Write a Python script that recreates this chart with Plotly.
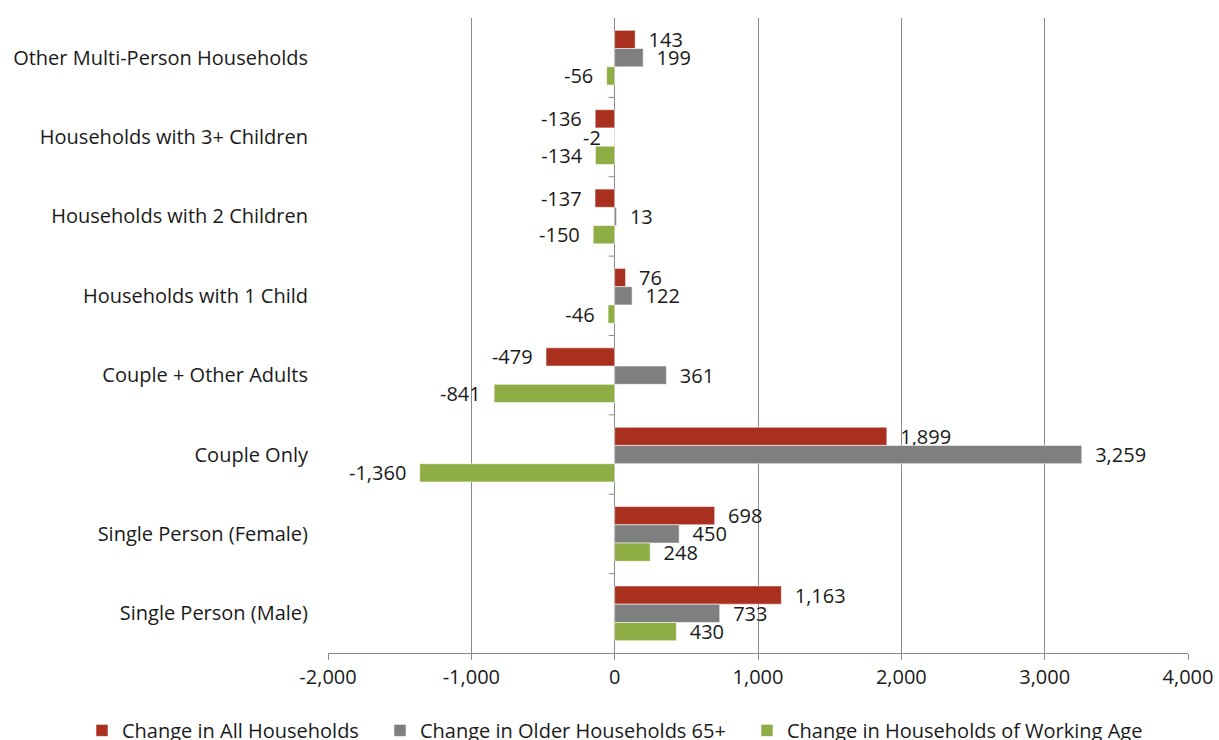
import plotly.graph_objects as go

# Household types, listed top to bottom
categories = [
    "Other Multi-Person Households",
    "Households with 3+ Children",
    "Households with 2 Children",
    "Households with 1 Child",
    "Couple + Other Adults",
    "Couple Only",
    "Single Person (Female)",
    "Single Person (Male)",
]

all_households = [143, -136, -137, 76, -479, 1899, 698, 1163]
older_households = [199, -2, 13, 122, 361, 3259, 450, 733]
working_age_households = [-56, -134, -150, -46, -841, -1360, 248, 430]

series = [
    ("Change in All Households", all_households, "#A9301F"),
    ("Change in Older Households 65+", older_households, "#7F7F7F"),
    ("Change in Households of Working Age", working_age_households, "#8EAD44"),
]

x_ticks = [-2000, -1000, 0, 1000, 2000, 3000, 4000]

FONT = "Open Sans"
SIZE = 20
TEXT_COLOR = "#1a1a1a"
GRID = "#8a8a8a"
PAD = "\u00a0\u00a0"

# one legend box per series, laid out left to right along the bottom
legend_ids = ["legend", "legend2", "legend3"]
legend_left = [82, 380, 747]  # pixels from the left edge of the page
W, H = 1219, 740


def label(v):
    s = f"{v:,}"
    return s + PAD if v < 0 else PAD + s


fig = go.Figure()
for (name, vals, color), lid in zip(series, legend_ids):
    fig.add_trace(go.Bar(
        name=name,
        legend=lid,
        y=categories,
        x=vals,
        orientation="h",
        marker=dict(color=color, line=dict(color="rgba(255,255,255,0.55)", width=1)),
        text=[label(v) for v in vals],
        textposition="outside",
        textfont=dict(family=FONT, size=SIZE, color=TEXT_COLOR),
        constraintext="none",
        cliponaxis=False,
    ))

# small tick marks on the category axis (drawn at the zero line, between groups)
shapes = []
for i in range(len(categories) - 1):
    shapes.append(dict(
        type="line", xref="x", yref="y", xsizemode="pixel", xanchor=0,
        x0=-6, x1=0, y0=i + 0.5, y1=i + 0.5,
        line=dict(color=GRID, width=1),
    ))

legend_style = dict(
    orientation="h",
    xref="container", yref="container",
    xanchor="left",
    y=0.013, yanchor="middle",
    font=dict(family=FONT, size=SIZE, color=TEXT_COLOR),
    itemwidth=30,
    bgcolor="rgba(0,0,0,0)",
)

fig.update_layout(
    width=W,
    height=H,
    margin=dict(l=328, r=31, t=18, b=87, autoexpand=False),
    paper_bgcolor="white",
    plot_bgcolor="white",
    barmode="group",
    bargap=0.31,
    bargroupgap=0,
    font=dict(family=FONT, size=SIZE, color=TEXT_COLOR),
    showlegend=True,
    shapes=shapes,
    xaxis=dict(
        range=[-2000, 4000],
        tickvals=x_ticks,
        ticktext=[f"{v:,}" for v in x_ticks],
        showgrid=True,
        gridcolor=GRID,
        gridwidth=1,
        zeroline=True,
        zerolinecolor=GRID,
        zerolinewidth=1,
        showline=True,
        linecolor=GRID,
        linewidth=1,
        ticks="outside",
        ticklen=6,
        tickcolor=GRID,
        tickfont=dict(family=FONT, size=SIZE, color=TEXT_COLOR),
        fixedrange=True,
    ),
    yaxis=dict(
        categoryorder="array",
        categoryarray=categories,
        autorange="reversed",
        showgrid=False,
        showline=False,
        zeroline=False,
        ticks="",
        ticklabelstandoff=19,
        tickfont=dict(family=FONT, size=SIZE, color=TEXT_COLOR),
        fixedrange=True,
    ),
)

for lid, left in zip(legend_ids, legend_left):
    fig.update_layout({lid: dict(legend_style, x=left / W)})

fig.write_html("out.html")
